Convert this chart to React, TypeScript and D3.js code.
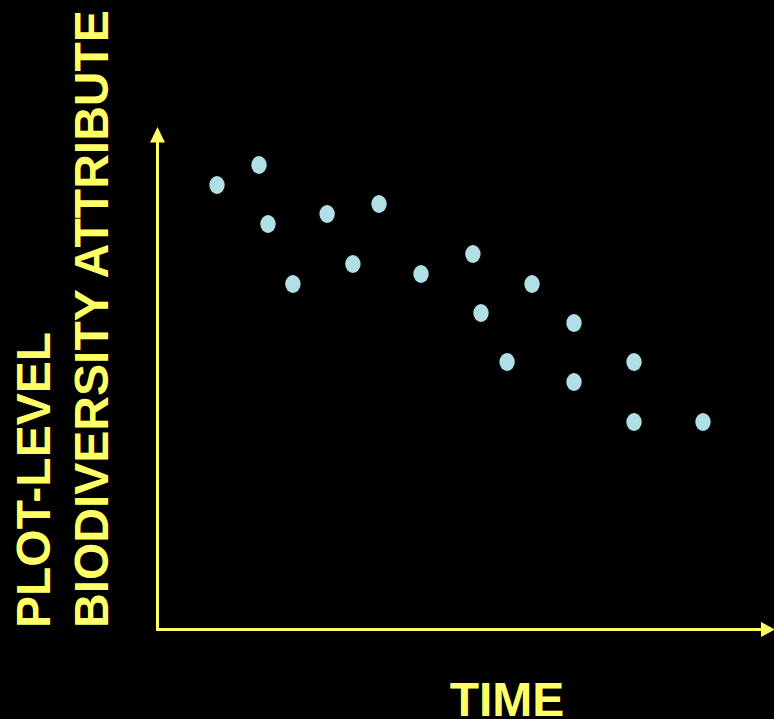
import React from "react";
import * as d3 from "d3";

// Observations: time (arbitrary units) and attribute value
const timeValues = [2.0, 3.4, 3.7, 4.53, 5.67, 6.53, 7.4, 8.8, 10.53, 10.8, 11.67, 12.5, 13.9, 13.9, 15.9, 15.9, 18.2];
const attributeValues = [8.9, 9.3, 8.12, 6.92, 8.32, 7.32, 8.52, 7.12, 7.52, 6.34, 5.36, 6.92, 6.14, 4.96, 5.36, 4.16, 4.16];

const yLabelLines = ["PLOT-LEVEL", "BIODIVERSITY ATTRIBUTE"];
const xLabel = "TIME";

const W = 774;
const H = 719;
const YELLOW = "#FFFF66";
const DOT = "#B0E0E6";
const FONT = "'Liberation Sans', Arial, sans-serif";

export default function App() {
  const originX = 157.5;
  const originY = 629.5;
  const x = d3.scaleLinear().domain([0, 20]).range([157, 757]);
  const y = d3.scaleLinear().domain([0, 10]).range([630, 130]);

  const yArrow = d3.path();
  yArrow.moveTo(originX, 127);
  yArrow.lineTo(originX - 7.5, 142.5);
  yArrow.lineTo(originX + 7.5, 142.5);
  yArrow.closePath();

  const xArrow = d3.path();
  xArrow.moveTo(775, originY);
  xArrow.lineTo(761, originY - 7.5);
  xArrow.lineTo(761, originY + 7.5);
  xArrow.closePath();

  return (
    <svg
      width={W}
      height={H}
      style={{ position: "absolute", left: 0, top: 0, background: "#000" }}
    >
      <rect x={0} y={0} width={W} height={H} fill="#000" />
      {/* axes */}
      <line x1={originX} y1={originY + 1.5} x2={originX} y2={140} stroke={YELLOW} strokeWidth={3} />
      <line x1={originX - 1.5} y1={originY} x2={764} y2={originY} stroke={YELLOW} strokeWidth={3} />
      <path d={yArrow.toString()} fill={YELLOW} />
      <path d={xArrow.toString()} fill={YELLOW} />

      {/* points */}
      {timeValues.map((t, i) => (
        <ellipse key={i} cx={x(t)} cy={y(attributeValues[i])} rx={7.7} ry={9} fill={DOT} />
      ))}

      {/* axis titles */}
      {yLabelLines.map((line, i) => (
        <text
          key={line}
          transform={`translate(${50 + i * 58},628) rotate(-90)`}
          fill={YELLOW}
          fontFamily={FONT}
          fontWeight="bold"
          fontSize={48}
        >
          {line}
        </text>
      ))}
      <text
        x={507}
        y={716}
        textAnchor="middle"
        fill={YELLOW}
        fontFamily={FONT}
        fontWeight="bold"
        fontSize={48}
      >
        {xLabel}
      </text>
    </svg>
  );
}
